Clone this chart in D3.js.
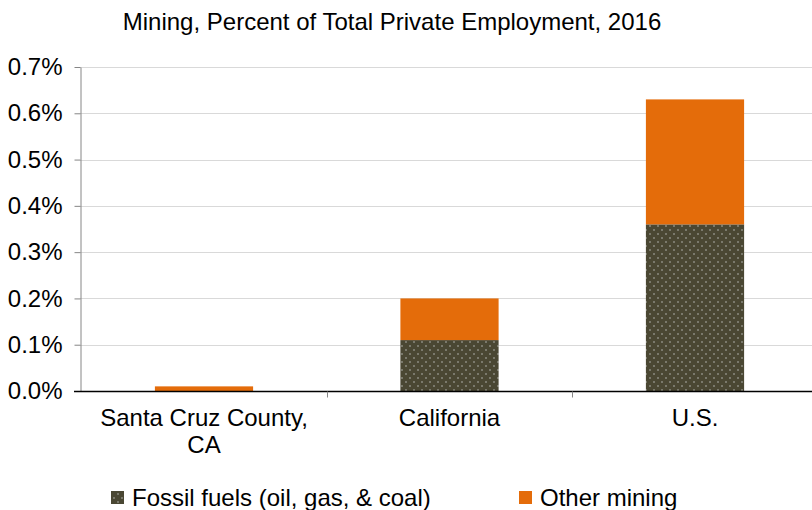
<!DOCTYPE html>
<html><head><meta charset="utf-8">
<script src="https://cdn.jsdelivr.net/npm/d3@7"></script>
<style>body{margin:0;background:#fff}svg{display:block;font-family:"Liberation Sans",Arial,sans-serif}</style>
</head><body><svg id="c" width="812" height="510"></svg>
<script>
const categories = ["Santa Cruz County, CA", "California", "U.S."];
const categoryLines = [["Santa Cruz County,", "CA"], ["California"], ["U.S."]];
const fossil = [0.0, 0.11, 0.36];
const other = [0.01, 0.09, 0.27];
const seriesNames = ["Fossil fuels (oil, gas, & coal)", "Other mining"];
const yTicks = [0, 0.1, 0.2, 0.3, 0.4, 0.5, 0.6, 0.7];
const title = "Mining, Percent of Total Private Employment, 2016";

const svg = d3.select("#c");
const W = 812, H = 510;
const FS = 24;
const x = d3.scaleBand().domain(categories).range([81.25, 817.75]).paddingInner(0.6).paddingOuter(0.3);
const y = d3.scaleLinear().domain([0, 0.7]).range([391, 67]);
const axisX = 80;

const defs = svg.append("defs");
const pat = defs.append("pattern").attr("id", "dots").attr("patternUnits", "userSpaceOnUse")
  .attr("width", 8).attr("height", 8);
pat.append("rect").attr("width", 8).attr("height", 8).attr("fill", "#4a4733");
pat.append("rect").attr("x", 1).attr("y", 1).attr("width", 2).attr("height", 2).attr("fill", "#7a796c");
pat.append("rect").attr("x", 5).attr("y", 5).attr("width", 2).attr("height", 2).attr("fill", "#7a796c");

svg.append("text").attr("x", 392).attr("y", 30).attr("text-anchor", "middle")
  .attr("font-size", FS).attr("fill", "#000").text(title);

// gridlines
svg.append("g").selectAll("line").data(yTicks.slice(1)).join("line")
  .attr("x1", axisX).attr("x2", W).attr("y1", d => Math.round(y(d)) + 0.5).attr("y2", d => Math.round(y(d)) + 0.5)
  .attr("stroke", "#d9d9d9").attr("stroke-width", 1);

// y axis
const ya = svg.append("g").attr("transform", `translate(${axisX + 0.5},0)`)
  .call(d3.axisLeft(y).tickValues(yTicks).tickFormat(d => d.toFixed(1) + "%").tickSize(6).tickSizeOuter(0));
ya.select(".domain").attr("stroke", "#868686");
ya.selectAll(".tick line").attr("stroke", "#868686");
ya.selectAll(".tick text").attr("font-size", FS).attr("fill", "#000")
  .attr("font-family", "Liberation Sans, Arial, sans-serif").attr("x", -18);

// bars
const bw = x.bandwidth();
svg.append("g").selectAll("rect").data(categories).join("rect")
  .attr("x", d => x(d)).attr("width", bw)
  .attr("y", (d, i) => y(fossil[i])).attr("height", (d, i) => y(0) - y(fossil[i]))
  .attr("fill", "url(#dots)");
svg.append("g").selectAll("rect").data(categories).join("rect")
  .attr("x", d => x(d)).attr("width", bw)
  .attr("y", (d, i) => y(fossil[i] + other[i])).attr("height", (d, i) => y(fossil[i]) - y(fossil[i] + other[i]))
  .attr("fill", "#e46c0a");

// x axis
const y0 = Math.round(y(0)) + 0.5;
svg.append("line").attr("x1", axisX - 6).attr("x2", W).attr("y1", y0).attr("y2", y0).attr("stroke", "#000").attr("stroke-width", 1.5);
const step = x.step();
const bounds = categories.slice(1).map(c => x(c) - (step - bw) / 2);
svg.append("g").selectAll("line").data(bounds).join("line")
  .attr("x1", d => Math.round(d) + 0.5).attr("x2", d => Math.round(d) + 0.5).attr("y1", y0).attr("y2", y0 + 6)
  .attr("stroke", "#868686");

const xl = svg.append("g").selectAll("text").data(categories).join("text")
  .attr("x", d => x(d) + bw / 2).attr("y", 426).attr("text-anchor", "middle").attr("font-size", FS).attr("fill", "#000");
xl.each(function(d, i) {
  d3.select(this).selectAll("tspan").data(categoryLines[i]).join("tspan")
    .attr("x", x(d) + bw / 2).attr("dy", (t, j) => j === 0 ? 0 : 27).text(t => t);
});

// legend
const leg = [{name: seriesNames[0], fill: "url(#dots)", x: 111}, {name: seriesNames[1], fill: "#e46c0a", x: 519}];
const lg = svg.append("g");
lg.selectAll("rect").data(leg).join("rect").attr("x", d => d.x).attr("y", 491).attr("width", 13).attr("height", 13).attr("fill", d => d.fill);
lg.selectAll("text").data(leg).join("text").attr("x", d => d.x + 21).attr("y", 506).attr("font-size", FS).attr("fill", "#000").text(d => d.name);
</script></body></html>
